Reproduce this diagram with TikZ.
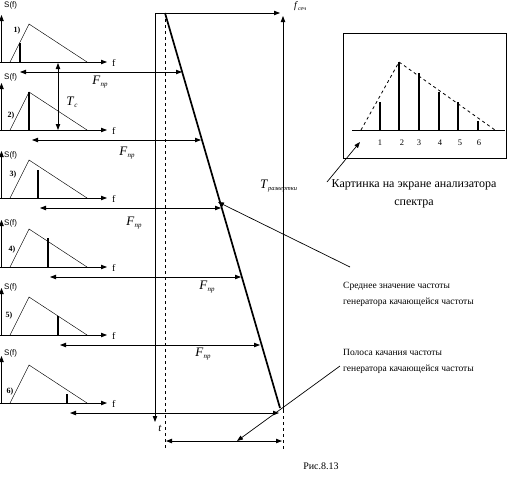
\documentclass[tikz,border=0pt]{standalone}
\usepackage{fontspec}
\setmainfont{Liberation Serif}
\newfontfamily\arialf{Liberation Sans}
\usepackage{tikz}
\usetikzlibrary{positioning}
\usetikzlibrary{calc,arrows.meta}
\newcommand\labsub[3][7]{\textit{#2}\raisebox{-0.4ex}{\fontsize{#1}{#1}\selectfont\itshape #3}}

\begin{document}
\begin{tikzpicture}[x=1pt, y=-1pt,
>={Triangle[length=6pt,width=4.4pt]},
axisline/.style={->, line width=0.8pt},
specline/.style={line width=0.45pt},
barline/.style={line width=2.3pt},
farrow/.style={<->, line width=0.8pt},
ptr/.style={->, line width=0.7pt},
Slabel/.style={font=\arialf\fontsize{8}{8}\selectfont, inner sep=0pt, anchor=west},
flabel/.style={font=\fontsize{10}{10}\selectfont, inner sep=0pt},
Flabel/.style={font=\fontsize{13}{13}\selectfont, inner sep=0pt},
note/.style={font=\fontsize{9.5}{16}\selectfont, align=left, anchor=north west, inner sep=0pt}
]
\useasboundingbox (0,0) rectangle (525,480);

%Spectra of the six shots
\foreach \i/\b/\bx/\bh/\sy/\lx/\ly/\ax/\rx in {
  1/62/20/19/5/17/31/20/182,
  2/130/29/38/77/11/116/32/201,
  3/198/38/28/155/13/175/40/221,
  4/267/48/29/223/12/250/50/241,
  5/335/58/19/287/9/316/60/260,
  6/403/67/9/353/10/392/70/279}{
  \coordinate (O\i) at (1.5,\b);
  \coordinate (Y\i) at (1.5,\b-47);
  \coordinate (X\i) at (107,\b);
  \coordinate (A\i) at (10,\b);
  \coordinate (P\i) at (29,\b-38);
  \coordinate (B\i) at (87,\b);
  \coordinate (L\i) at (\bx,\b);
  \coordinate (H\i) at (\bx,\b-\bh);
  \coordinate (FL\i) at (\ax,\b+10);
  \coordinate (FR\i) at (\rx,\b+10);
  \node[Slabel] (S\i) at (4,\sy) {S(f)};
  \node[flabel, anchor=west] (f\i) at (112,\b+1) {f};
  \node[font=\bfseries\fontsize{8}{8}\selectfont, inner sep=0pt] (n\i) at (\lx,\ly) {\i)};
  \draw[axisline] (O\i) -- (Y\i);
  \draw[axisline] (0,\b) -- (X\i);
  \draw[specline] (A\i) -- (P\i) -- (B\i);
  \draw[barline] (L\i) -- (H\i);
  \draw[farrow] (FL\i) -- (FR\i);
}

%F_pr labels
\node[Flabel] (F1) at (100,82) {\labsub{F}{пр}};
\node[Flabel] (F2) at (127,153) {\labsub{F}{пр}};
\node[Flabel] (F3) at (134,223) {\labsub{F}{пр}};
\node[Flabel] (F4) at (207,287) {\labsub{F}{пр}};
\node[Flabel] (F5) at (203,354) {\labsub{F}{пр}};

%T_c
\coordinate (Tc1) at (58,63);
\coordinate (Tc2) at (58,130);
\draw[farrow] (Tc1) -- (Tc2);
\node[Flabel] (Tc) at (72,102) {\labsub{T}{c}};

%Sweep
\coordinate (tTop) at (155,13);
\coordinate (tEnd) at (155,422);
\coordinate (fEnd) at (280,13);
\coordinate (sTop) at (165,13);
\coordinate (sBot) at (280,408);
\coordinate (Tbot) at (283,410);
\coordinate (Ttop) at (283,16);
\coordinate (dL) at (165,450);
\coordinate (dR) at (283,450);
\coordinate (dimL) at (166,441);
\coordinate (dimR) at (282,441);
\coordinate (dimM) at (237,441);

\draw[axisline] (tTop) -- (tEnd);
\draw[axisline] (tTop) -- (fEnd);
\draw[axisline] (Tbot) -- (Ttop);
\draw[line width=1.7pt] (sTop) -- (sBot);
\draw[dashed, line width=0.6pt] (sTop) -- (dL);
\draw[dashed, line width=0.6pt] (Tbot) -- (dR);
\draw[farrow] (dimL) -- (dimR);

\node[inner sep=0pt, anchor=west] (fsw) at (294,6) {\labsub[6]{f}{сеч}};
\node[inner sep=0pt, font=\fontsize{11}{11}\selectfont] (tlab) at (160,428) {\textit{t}};
\node[inner sep=0pt, anchor=west, font=\fontsize{13}{13}\selectfont] (Tsw) at (260,186) {\labsub[6.5]{T}{развертки}};

%Screen of the analyser
\draw[line width=0.6pt] (343,33) rectangle (506,158);
\coordinate (sc0) at (352,130);
\coordinate (sc1) at (505,130);
\coordinate (scA) at (361,130);
\coordinate (scP) at (399,62);
\coordinate (scB) at (495,130);
\draw[line width=0.7pt] (sc0) -- (sc1);
\draw[dashed, line width=0.8pt] (scA) -- (scP) -- (scB);
\foreach \k/\x/\h/\nx in {1/380/102/380, 2/399/62/402, 3/419/73/419, 4/439/92/440, 5/458/102/460, 6/478/121/479}{
  \draw[barline] (\x,130) -- (\x,\h);
  \node[inner sep=0pt, font=\fontsize{8.5}{8.5}\selectfont] (k\k) at (\nx,143) {\k};
}

%Notes
\node[font=\fontsize{12}{18}\selectfont, align=center, inner sep=0pt] (kart) at (414,194) {Картинка на экране анализатора\\спектра};
\node[note] (sred) at (343,282) {Среднее значение частоты\\генератора качающейся частоты};
\node[note] (pol) at (343,349) {Полоса качания частоты\\генератора качающейся частоты};
\node[inner sep=0pt, font=\fontsize{10}{10}\selectfont] (fig) at (321,466) {Рис.8.13};

\coordinate (kartP) at (360,142);
\coordinate (kartT) at (327,182);
\coordinate (sredP) at (218,202);
\coordinate (sredT) at (350,267);
\coordinate (polT) at (340,366);
\draw[ptr] (kartT) -- (kartP);
\draw[ptr] (sredT) -- (sredP);
\draw[ptr] (polT) -- (dimM);
\end{tikzpicture}
\end{document}
